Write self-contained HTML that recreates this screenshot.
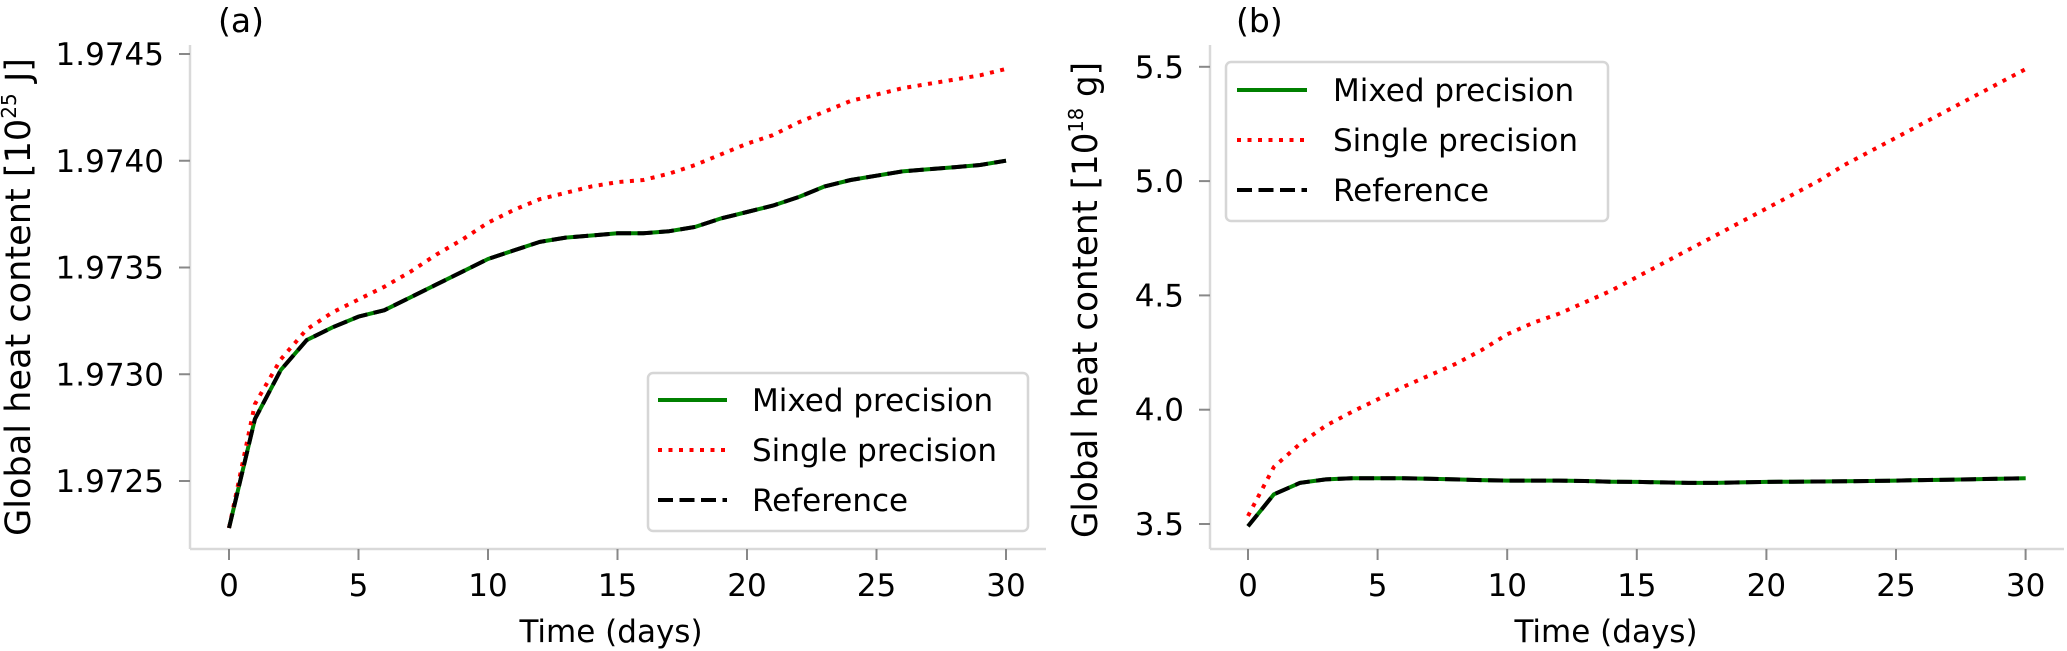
<!DOCTYPE html>
<html><head><meta charset="utf-8">
<style>
html,body{margin:0;padding:0;background:#fff;}
svg{display:block;}
text{font-family:"DejaVu Sans","Liberation Sans",sans-serif;fill:#000;}
</style></head>
<body>
<svg id="fig" width="2067" height="651" viewBox="0 0 2067 651" xmlns="http://www.w3.org/2000/svg"></svg>
<script>
// ---- data ----
const days = [0,1,2,3,4,5,6,7,8,9,10,11,12,13,14,15,16,17,18,19,20,21,22,23,24,25,26,27,28,29,30];
const aReference = [1.97228,1.97279,1.97302,1.97316,1.97322,1.97327,1.97330,1.97336,1.97342,1.97348,1.97354,1.97358,1.97362,1.97364,1.97365,1.97366,1.97366,1.97367,1.97369,1.97373,1.97376,1.97379,1.97383,1.97388,1.97391,1.97393,1.97395,1.97396,1.97397,1.97398,1.97400];
const aMixed = aReference.slice();
const aSingle = [1.97228,1.97286,1.97307,1.97321,1.97329,1.97335,1.97341,1.97348,1.97356,1.97363,1.97371,1.97377,1.97382,1.97385,1.97388,1.97390,1.97391,1.97394,1.97398,1.97403,1.97408,1.97412,1.97418,1.97423,1.97428,1.97431,1.97434,1.97436,1.97438,1.97440,1.97443];
const bReference = [3.49,3.63,3.68,3.695,3.70,3.70,3.70,3.698,3.695,3.692,3.69,3.69,3.69,3.688,3.685,3.684,3.682,3.68,3.68,3.682,3.684,3.685,3.686,3.687,3.688,3.69,3.692,3.694,3.696,3.698,3.70];
const bMixed = bReference.slice();
const bSingle = [3.535,3.75,3.85,3.93,3.99,4.045,4.10,4.15,4.20,4.26,4.33,4.38,4.42,4.47,4.52,4.58,4.64,4.70,4.76,4.82,4.88,4.94,5.00,5.07,5.13,5.19,5.25,5.31,5.37,5.43,5.49];
const xTicks = [0,5,10,15,20,25,30];
const aYTicks = [1.9725,1.9730,1.9735,1.9740,1.9745];
const aYTickLabels = ["1.9725","1.9730","1.9735","1.9740","1.9745"];
const bYTicks = [3.5,4.0,4.5,5.0,5.5];
const bYTickLabels = ["3.5","4.0","4.5","5.0","5.5"];
const legendLabels = ["Mixed precision","Single precision","Reference"];

const NS = "http://www.w3.org/2000/svg";
const svg = document.getElementById('fig');
function mk(tag, attrs, parent){
  const e = document.createElementNS(NS, tag);
  for (const k in attrs) e.setAttribute(k, attrs[k]);
  (parent||svg).appendChild(e);
  return e;
}

function panel(cfg){
  const g = mk('g', {});
  
  
  const sx = v => cfg.x0 + (v - 0) * cfg.xPer;
  const sy = v => cfg.yBase - (v - cfg.yMin) * cfg.yPer;
  // spines
  const ys = mk('line', {x1:cfg.spineX, y1:cfg.spineTop, x2:cfg.spineX, y2:cfg.spineY, stroke:'#d9d9d9','stroke-width':2.5}, g);
  
  
  const xs = mk('line', {x1:cfg.spineX, y1:cfg.spineY, x2:cfg.spineRight, y2:cfg.spineY, stroke:'#d9d9d9','stroke-width':2.5}, g);
  
  
  // x ticks
  xTicks.forEach(t => {
    const x = sx(t);
    const tl = mk('line', {x1:x, y1:cfg.spineY, x2:x, y2:cfg.spineY+11, stroke:'#888','stroke-width':2}, g);
    
    
    const tx = mk('text', {x:x, y:cfg.spineY+47, 'font-size':31, 'text-anchor':'middle'}, g);
    tx.textContent = String(t);
    
    
  });
  // y ticks
  cfg.yTicks.forEach((t,i) => {
    const y = sy(t);
    const tl = mk('line', {x1:cfg.spineX-11, y1:y, x2:cfg.spineX, y2:y, stroke:'#888','stroke-width':2}, g);
    
    
    const tx = mk('text', {x:cfg.spineX-26, y:y+11, 'font-size':31, 'text-anchor':'end'}, g);
    tx.textContent = cfg.yLabels[i];
    
    
  });
  // series
  function path(vals){
    return vals.map((v,i)=>(i?'L':'M')+sx(days[i]).toFixed(1)+','+sy(v).toFixed(1)).join(' ');
  }
  const pm = mk('path', {d:path(cfg.mixed), fill:'none', stroke:'#008000','stroke-width':4,'stroke-linejoin':'round'}, g);
  
  
  const ps = mk('path', {d:path(cfg.single), fill:'none', stroke:'#ff0000','stroke-width':4,'stroke-dasharray':'4 6.5'}, g);
  
  
  const pr = mk('path', {d:path(cfg.ref), fill:'none', stroke:'#000','stroke-width':4,'stroke-dasharray':'15 6.5'}, g);
  
  
  // axis labels
  const xl = mk('text', {x:cfg.xLabelX, y:cfg.xLabelY, 'font-size':31, 'text-anchor':'middle'}, g);
  xl.textContent = 'Time (days)';
  
  
  const yl = mk('text', {x:0, y:0, 'font-size':35, 'text-anchor':'middle', 'font-family':'Liberation Sans, sans-serif', transform:`translate(${cfg.yLabelX},${cfg.yLabelY}) rotate(-90)`, textLength:cfg.yLabelLen, lengthAdjust:'spacingAndGlyphs'}, g);
  yl.innerHTML = 'Global heat content [10<tspan font-size="20" dy="-14">' + cfg.exp + '</tspan><tspan dy="14"> ' + cfg.unit + ']</tspan>';
  
  
  const pl = mk('text', {x:cfg.panelX, y:32, 'font-size':33}, g);
  pl.textContent = cfg.panelLabel;
  
  
  // legend
  const L = cfg.leg;
  const lg = mk('g', {}, g);
  
  
  mk('rect', {x:L.x, y:L.y, width:L.w, height:L.h, rx:5, fill:'#fff', stroke:'#d6d6d6','stroke-width':2.5}, lg);
  const styles = [
    {stroke:'#008000'},
    {stroke:'#ff0000','stroke-dasharray':'4 6.5'},
    {stroke:'#000','stroke-dasharray':'15 6.5'}
  ];
  legendLabels.forEach((lab,i) => {
    const ry = L.rows[i];
    const ent = mk('g', {}, lg);
    
    
    const a = Object.assign({x1:L.sx1, y1:ry, x2:L.sx2, y2:ry, 'stroke-width':4}, styles[i]);
    mk('line', a, ent);
    const t = mk('text', {x:L.tx, y:ry+11, 'font-size':31}, ent);
    t.textContent = lab;
  });
}

panel({
  name:'panel-a', x0:229, xPer:129.5/5, yMin:1.9725, yBase:481, yPer:106.75/0.0005,
  spineX:190, spineTop:45, spineY:549, spineRight:1046,
  yTicks:aYTicks, yLabels:aYTickLabels,
  mixed:aMixed, single:aSingle, ref:aReference,
  xLabelX:611, xLabelY:642, yLabelX:30, yLabelY:297, yLabelLen:478, exp:'25', unit:'J',
  panelX:218, panelLabel:'(a)',
  leg:{x:648, y:373, w:380, h:158, rows:[400,450,500], sx1:658, sx2:727, tx:752}
});
panel({
  name:'panel-b', x0:1248, xPer:129.6/5, yMin:3.5, yBase:524, yPer:114.3/0.5,
  spineX:1210, spineTop:45, spineY:549, spineRight:2064,
  yTicks:bYTicks, yLabels:bYTickLabels,
  mixed:bMixed, single:bSingle, ref:bReference,
  xLabelX:1606, xLabelY:642, yLabelX:1097, yLabelY:300, yLabelLen:476, exp:'18', unit:'g',
  panelX:1236, panelLabel:'(b)',
  leg:{x:1226, y:62, w:382, h:159, rows:[90,140,190], sx1:1237, sx2:1307, tx:1333}
});
</script>
</body></html>
